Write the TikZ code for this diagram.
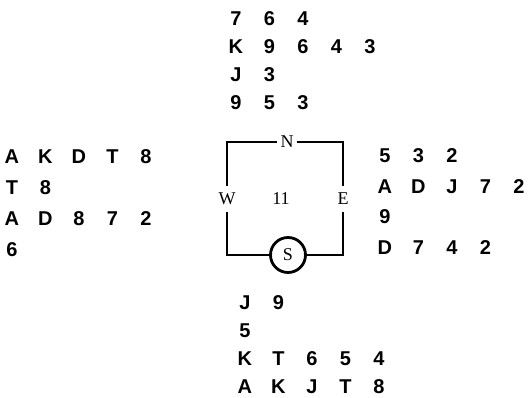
\documentclass[tikz,border=0pt]{standalone}
\usepackage{fontspec}
\setmainfont{Liberation Sans}
\newfontfamily\lblfont{Liberation Serif}
\newcommand\crd[1]{\makebox[33.5pt][c]{#1}}
\newcommand\crow[1]{\crowi#1\relax}
\def\crowi#1{\ifx#1\relax\else\crd{#1}\expandafter\crowi\fi}
\begin{document}
\begin{tikzpicture}[x=1pt,y=-1pt,
  handrow/.style={anchor=west, inner sep=0pt, text height=15pt, text depth=0pt,
    font=\bfseries\fontsize{20}{20}\selectfont},
  boxlbl/.style={font=\lblfont\fontsize{18}{18}\selectfont, inner xsep=3pt, inner ysep=7pt},
  boxline/.style={line width=2.8pt}]
\useasboundingbox (0,0) rectangle (531,398);
% North hand
\node[handrow] (n1) at (219,18)  {\crow{764}};
\node[handrow] (n2) at (219,46)  {\crow{K9643}};
\node[handrow] (n3) at (219,74)  {\crow{J3}};
\node[handrow] (n4) at (219,102) {\crow{953}};
% West hand
\node[handrow] (w1) at (-5,156) {\crow{AKDT8}};
\node[handrow] (w2) at (-5,187) {\crow{T8}};
\node[handrow] (w3) at (-5,218) {\crow{AD872}};
\node[handrow] (w4) at (-5,249) {\crow{6}};
% East hand
\node[handrow] (e1) at (368,155) {\crow{532}};
\node[handrow] (e2) at (368,186) {\crow{ADJ72}};
\node[handrow] (e3) at (368,216) {\crow{9}};
\node[handrow] (e4) at (368,247) {\crow{D742}};
% South hand
\node[handrow] (s1) at (228,302) {\crow{J9}};
\node[handrow] (s2) at (228,330) {\crow{5}};
\node[handrow] (s3) at (228,358) {\crow{KT654}};
\node[handrow] (s4) at (228,386) {\crow{AKJT8}};
% table
\node[boxlbl] (N) at (287,142) {N};
\node[boxlbl] (W) at (227,199) {W};
\node[boxlbl] (E) at (343,199) {E};
\node[boxlbl] (tn) at (281,199) {11};
\node[boxline, draw, circle, minimum size=35pt, inner sep=0pt,
  font=\lblfont\fontsize{18}{18}\selectfont] (S) at (288,255) {S};
\draw[boxline] (N.west) -| (W.north);
\draw[boxline] (N.east) -| (E.north);
\draw[boxline] (W.south) |- (S.west);
\draw[boxline] (E.south) |- (S.east);
\end{tikzpicture}
\end{document}
